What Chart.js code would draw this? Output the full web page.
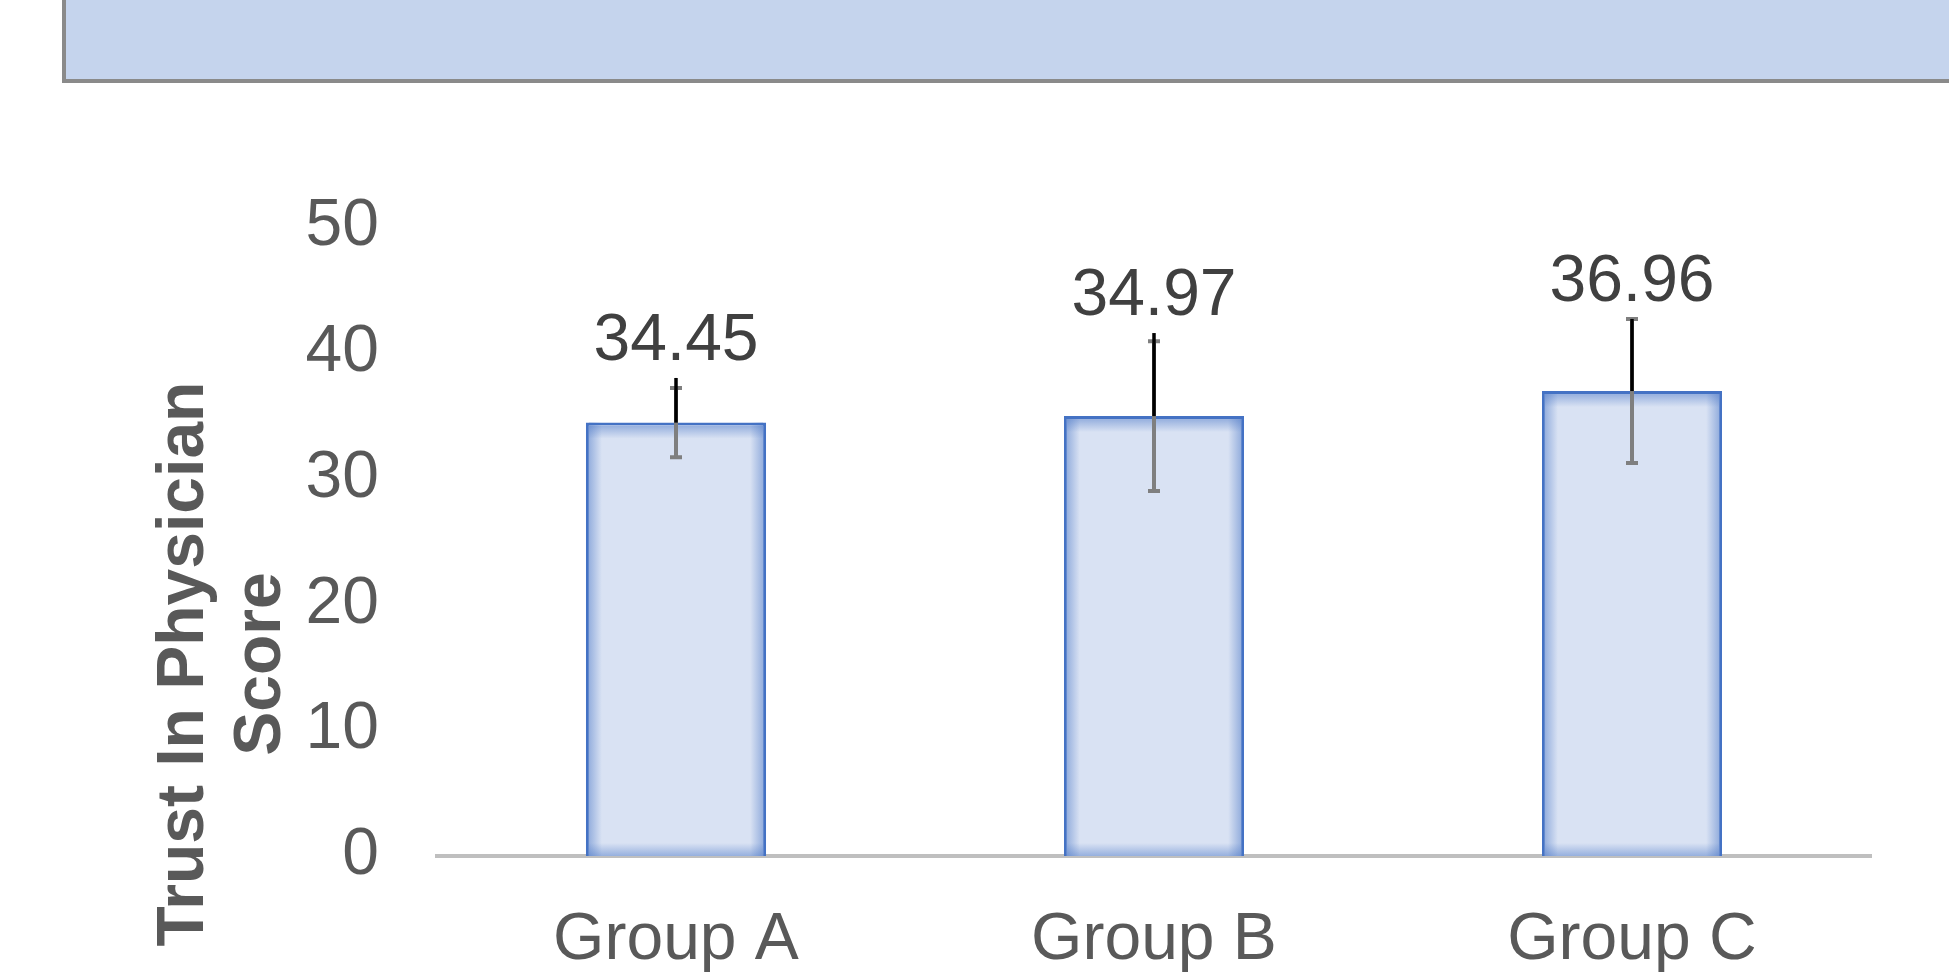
<!DOCTYPE html>
<html><head><meta charset="utf-8">
<script src="https://cdn.jsdelivr.net/npm/chart.js@4"></script>
<style>html,body{margin:0;padding:0;background:#fff;overflow:hidden}#wrap{width:1949px;height:972px;position:relative}</style>
</head><body><div id="wrap"><canvas id="c" width="1949" height="972"></canvas></div>
<script>
const categories = ['Group A', 'Group B', 'Group C'];
const meanScores = [34.45, 34.97, 36.96];
const sdError = [2.75, 5.95, 5.72];
const upperError = [3.55, 6.6, 5.73];
const yTicks = [0, 10, 20, 30, 40, 50];
const yTitle = ['Trust In Physician', 'Score'];

const FONT = '"Liberation Sans", Arial, sans-serif';

const bannerPlugin = {
  id: 'banner',
  beforeDraw(chart) {
    const ctx = chart.ctx;
    ctx.save();
    ctx.fillStyle = '#ffffff';
    ctx.fillRect(0, 0, chart.width, chart.height);
    ctx.fillStyle = '#8a8a8a';
    ctx.fillRect(62, 0, chart.width - 62, 83);
    ctx.fillStyle = '#c5d4ed';
    ctx.fillRect(66, 0, chart.width - 66, 79);
    ctx.restore();
  }
};

const titlePlugin = {
  id: 'ytitle',
  afterDraw(chart) {
    const ctx = chart.ctx;
    ctx.save();
    ctx.fillStyle = '#595959';
    ctx.font = 'bold 66px ' + FONT;
    ctx.textAlign = 'center';
    ctx.textBaseline = 'middle';
    const xs = [185, 262];
    yTitle.forEach((t, i) => {
      ctx.save();
      ctx.translate(xs[i], 664);
      ctx.rotate(-Math.PI / 2);
      ctx.fillText(t, 0, 0);
      ctx.restore();
    });
    ctx.restore();
  }
};

const glowPlugin = {
  id: 'glowErr',
  afterDatasetsDraw(chart) {
    const ctx = chart.ctx;
    const meta = chart.getDatasetMeta(0);
    const ys = chart.scales.y;
    ctx.save();
    meta.data.forEach((el, i) => {
      const l = el.x - el.width / 2, r = el.x + el.width / 2, t = el.y, b = el.base;
      const g = 13, bw = 3;
      const c0 = 'rgba(68,114,196,0.45)', c1 = 'rgba(68,114,196,0)';
      let gr;
      gr = ctx.createLinearGradient(l + bw, 0, l + bw + g, 0);
      gr.addColorStop(0, c0); gr.addColorStop(1, c1);
      ctx.fillStyle = gr; ctx.fillRect(l + bw, t, g, b - t);
      gr = ctx.createLinearGradient(r - bw, 0, r - bw - g, 0);
      gr.addColorStop(0, c0); gr.addColorStop(1, c1);
      ctx.fillStyle = gr; ctx.fillRect(r - bw - g, t, g, b - t);
      gr = ctx.createLinearGradient(0, t + bw, 0, t + bw + g);
      gr.addColorStop(0, c0); gr.addColorStop(1, c1);
      ctx.fillStyle = gr; ctx.fillRect(l + bw, t + bw, r - l - 2 * bw, g);
      gr = ctx.createLinearGradient(0, b, 0, b - g);
      gr.addColorStop(0, c0); gr.addColorStop(1, c1);
      ctx.fillStyle = gr; ctx.fillRect(l + bw, b - g, r - l - 2 * bw, g);

      // gray error bar (symmetric, capped)
      const v = meanScores[i];
      const yHi = ys.getPixelForValue(v + sdError[i]);
      const yLo = ys.getPixelForValue(v - sdError[i]);
      ctx.strokeStyle = '#7f7f7f';
      ctx.lineWidth = 4;
      ctx.beginPath();
      ctx.moveTo(el.x, yHi); ctx.lineTo(el.x, yLo);
      ctx.moveTo(el.x - 6, yHi); ctx.lineTo(el.x + 6, yHi);
      ctx.moveTo(el.x - 6, yLo); ctx.lineTo(el.x + 6, yLo);
      ctx.stroke();
      // black upper error line
      const yB = ys.getPixelForValue(v + upperError[i]);
      ctx.strokeStyle = '#000000';
      ctx.lineWidth = 3.5;
      ctx.beginPath();
      ctx.moveTo(el.x, el.y); ctx.lineTo(el.x, yB);
      ctx.stroke();

      // data label
      const top = Math.min(yHi, yB);
      ctx.fillStyle = '#404040';
      ctx.font = '66px ' + FONT;
      ctx.textAlign = 'center';
      ctx.textBaseline = 'alphabetic';
      ctx.fillText(v.toFixed(2), el.x, top - 18);
    });
    ctx.restore();
  }
};

new Chart(document.getElementById('c'), {
  type: 'bar',
  data: {
    labels: categories,
    datasets: [{
      data: meanScores,
      backgroundColor: '#d9e2f3',
      borderColor: '#4472c4',
      borderWidth: 3,
      barPercentage: 0.377,
      categoryPercentage: 1
    }]
  },
  options: {
    responsive: false,
    animation: false,
    devicePixelRatio: 1,
    layout: { padding: { left: 0, top: 227, right: 78, bottom: 0 } },
    plugins: { legend: { display: false }, tooltip: { enabled: false } },
    scales: {
      x: {
        grid: { display: false, drawTicks: false },
        border: { display: true, color: '#bfbfbf', width: 4 },
        ticks: { color: '#595959', font: { size: 66, family: FONT }, padding: 45 },
        afterFit(s) { s.height = 116; }
      },
      y: {
        min: 0, max: 50,
        grid: { display: false, drawTicks: false },
        border: { display: false },
        ticks: { color: '#595959', font: { size: 66, family: FONT }, padding: 58 },
        afterBuildTicks(s) { s.ticks = yTicks.map(v => ({ value: v })); },
        afterFit(s) { s.width = 437; }
      }
    }
  },
  plugins: [bannerPlugin, glowPlugin, titlePlugin]
});
</script>
</body></html>
